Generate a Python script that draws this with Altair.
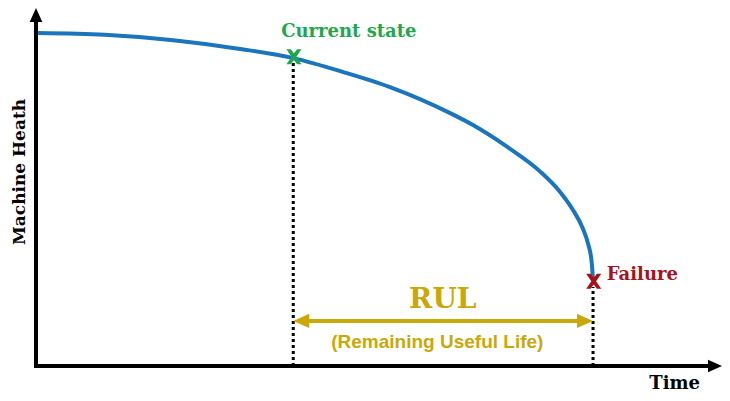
import altair as alt
import pandas as pd

# ---- data (time 0-100, health 0-100) ----
curve_t = [0.3, 10, 20, 30, 37.5, 44.8, 51.6, 60.3, 63.7, 68.7, 73.5, 76.4, 78.3, 79.7, 80.5, 81.0, 81.2]
curve_h = [93.0, 92.5, 91.0, 88.5, 86.0, 82.1, 77.9, 70.7, 67.3, 61.2, 54.3, 48.6, 43.5, 38.5, 34.0, 29.0, 24.0]

current_t, current_h = 37.5, 86.4
failure_t, failure_h = 81.2, 24.0
rul_h = 12.6

axis_x_end = 100
axis_y_end = 100

labels = ["Current state", "Failure", "RUL", "(Remaining Useful Life)", "Time", "Machine Heath"]
label_t = [45.6, 83.2, 59.3, 58.5, 93.1, -2.3]
label_h = [91.9, 24.0, 16.2, 5.0, -6.5, 54.2]

BLUE = "#1A75BC"
GREEN = "#1DA84F"
RED = "#A8121A"
OLIVE = "#C9A80A"

X_SHAPE = ("M -1 -1 L -0.42 -1 L 0 -0.45 L 0.42 -1 L 1 -1 L 0.32 0 L 1 1 L 0.42 1 "
           "L 0 0.45 L -0.42 1 L -1 1 L -0.32 0 Z")

xs = alt.Scale(domain=[0, 100])
ys = alt.Scale(domain=[0, 100])


def X(field="t"):
    return alt.X(f"{field}:Q", scale=xs, axis=None)


def Y(field="h"):
    return alt.Y(f"{field}:Q", scale=ys, axis=None)


# axes
axes_df = pd.DataFrame({
    "t": [0, 0], "h": [0, 0],
    "t2": [0, axis_x_end - 1.5], "h2": [axis_y_end - 3, 0],
})
axes = alt.Chart(axes_df).mark_rule(color="black", strokeWidth=4, strokeCap="square").encode(
    x=X(), y=Y(), x2="t2:Q", y2="h2:Q"
)
up_arrow = alt.Chart(pd.DataFrame({"t": [0], "h": [axis_y_end]})).mark_point(
    shape="M 0 0 L -0.9 2 L 0.9 2 Z", size=196, filled=True, color="black", opacity=1
).encode(x=X(), y=Y())
right_arrow = alt.Chart(pd.DataFrame({"t": [axis_x_end], "h": [0]})).mark_point(
    shape="M 0 0 L -2 -0.9 L -2 0.9 Z", size=196, filled=True, color="black", opacity=1
).encode(x=X(), y=Y())

# dotted guides
dots_df = pd.DataFrame({
    "t": [current_t, failure_t], "h": [0, 0], "h2": [current_h - 1.6, failure_h - 1.9]
})
dots = alt.Chart(dots_df).mark_rule(color="black", strokeWidth=3, strokeDash=[3, 3]).encode(
    x=X(), y=Y(), y2="h2:Q"
)

# health curve
curve_df = pd.DataFrame({"t": curve_t, "h": curve_h})
curve = alt.Chart(curve_df).mark_line(
    color=BLUE, strokeWidth=4, interpolate="monotone"
).encode(x=X(), y=Y(), order="t:Q")

# RUL arrow
rul_line = alt.Chart(pd.DataFrame({"t": [current_t + 1.5], "t2": [failure_t - 1.5], "h": [rul_h]})).mark_rule(
    color=OLIVE, strokeWidth=4
).encode(x=X(), x2="t2:Q", y=Y())
rul_left = alt.Chart(pd.DataFrame({"t": [current_t], "h": [rul_h]})).mark_point(
    shape="M 0 0 L 2 -0.9 L 2 0.9 Z", size=256, filled=True, color=OLIVE, opacity=1
).encode(x=X(), y=Y())
rul_right = alt.Chart(pd.DataFrame({"t": [failure_t], "h": [rul_h]})).mark_point(
    shape="M 0 0 L -2 -0.9 L -2 0.9 Z", size=256, filled=True, color=OLIVE, opacity=1
).encode(x=X(), y=Y())

# X markers
marks_df = pd.DataFrame({"t": [current_t + 0.1, failure_t + 0.1], "h": [current_h, failure_h - 0.3],
                         "c": [GREEN, RED]})
xmarks = alt.Chart(marks_df).mark_point(
    shape=X_SHAPE, size=225, filled=True, opacity=1
).encode(x=X(), y=Y(), color=alt.Color("c:N", scale=None))

lab = pd.DataFrame({"label": labels, "t": label_t, "h": label_h})


def text(i, color, font, size, align="center", angle=0, baseline="alphabetic"):
    kw = dict(font=font, fontWeight="bold", fontSize=size, align=align,
              baseline=baseline, color=color)
    if angle:
        kw["angle"] = angle
    return alt.Chart(lab.iloc[[i]]).mark_text(**kw).encode(x=X(), y=Y(), text="label:N")


texts = [
    text(0, GREEN, "DejaVu Serif", 18),
    text(1, RED, "DejaVu Serif", 18, align="left"),
    text(2, OLIVE, "DejaVu Serif", 28),
    text(3, OLIVE, "Liberation Sans", 19),
    text(4, "black", "DejaVu Serif", 18),
    text(5, "black", "DejaVu Serif", 17, angle=270, baseline="middle"),
]

chart = alt.layer(
    axes, up_arrow, right_arrow, dots, curve, rul_line, rul_left, rul_right, xmarks, *texts
).properties(
    width=686, height=358,
    padding={"left": 28, "top": 0, "right": 0, "bottom": 27},
    autosize=alt.AutoSizeParams(type="none"),
).configure_view(stroke=None)

chart.save("out.html", embed_options={"renderer": "svg", "actions": False})
